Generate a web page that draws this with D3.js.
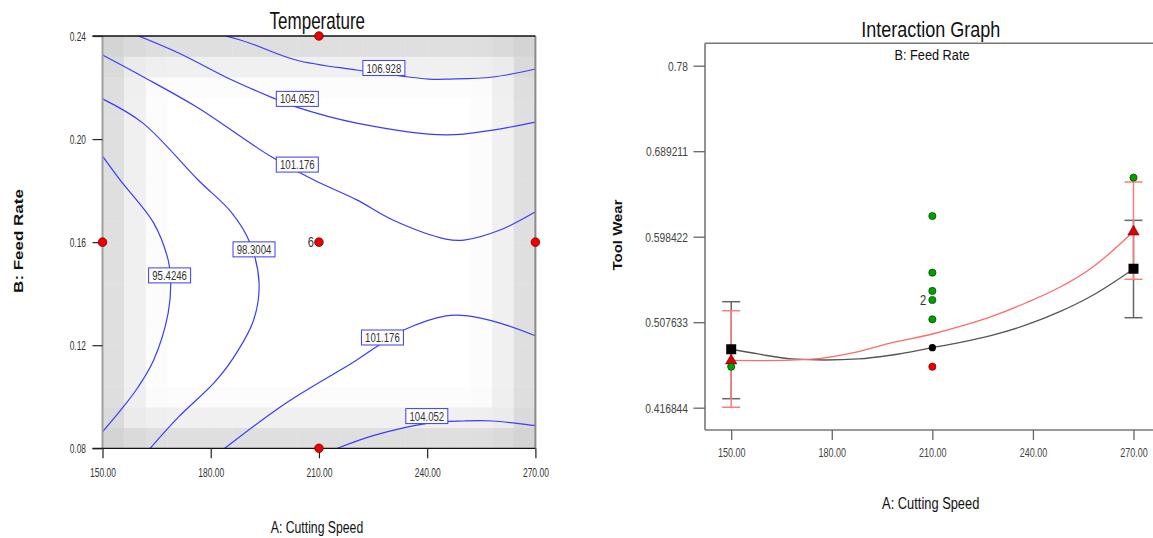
<!DOCTYPE html>
<html><head><meta charset="utf-8">
<script src="https://cdn.jsdelivr.net/npm/d3@7"></script>
<style>
body{margin:0;background:#fff;}
svg{display:block;font-family:"Liberation Sans",Arial,sans-serif;}
</style></head><body>
<svg id="c" width="1153" height="538"></svg>
<script>
// ---------- Left chart data: Temperature contour ----------
const speedTicks = [150, 180, 210, 240, 270];
const speedTickLabels = ["150.00", "180.00", "210.00", "240.00", "270.00"];
const feedTicks = [0.08, 0.12, 0.16, 0.20, 0.24];
const feedTickLabels = ["0.08", "0.12", "0.16", "0.20", "0.24"];

// contour lines: [Cutting Speed, Feed Rate]
const contour106928 = [[184.2,0.24],[190.9,0.2372],[203.6,0.2307],[220.5,0.2268],[240.5,0.2233],[246.3,0.2233],[258.2,0.2241],[270,0.2272]];
const contour104052Upper = [[160.0,0.24],[171.1,0.2334],[185.9,0.2229],[196.7,0.2163],[203.6,0.2125],[220.5,0.2062],[245.2,0.2016],[258.2,0.2035],[270,0.2066]];
const contour101176Upper = [[150,0.2326],[161.2,0.2242],[175.9,0.2126],[196.7,0.1932],[208.6,0.1841],[220.5,0.1764],[230.5,0.1686],[245.2,0.1612],[250.2,0.1608],[260.2,0.1647],[270,0.1718]];
const contour983004 = [[150,0.2156],[161.2,0.2062],[176.5,0.1841],[185.9,0.1713],[190.9,0.1597],[193.4,0.1442],[191.9,0.1298],[185.9,0.1143],[180.9,0.1054],[171.1,0.0922],[163.2,0.08]];
const contour954246 = [[150,0.1934],[154.9,0.1841],[164.2,0.1674],[168.2,0.1531],[168.9,0.1453],[168.2,0.1325],[164.2,0.1143],[159.7,0.1034],[155.1,0.0949],[150,0.0864]];
const contour101176Lower = [[183.9,0.08],[200.8,0.0975],[220.5,0.1143],[227.5,0.1209],[233.5,0.1259],[245.2,0.1314],[251.3,0.1314],[260.2,0.1286],[270,0.1237]];
const contour104052Lower = [[215.1,0.08],[225.5,0.0851],[240.4,0.0898],[250.2,0.0906],[258.2,0.0906],[270,0.0888]];
const contours = [contour106928, contour104052Upper, contour101176Upper, contour983004, contour954246, contour101176Lower, contour104052Lower];

const contourLabels = ["106.928", "104.052", "101.176", "98.3004", "95.4246", "101.176", "104.052"];
const contourLabelSpeed = [228.0, 204.0, 204.0, 192.0, 168.6, 227.6, 239.9];
const contourLabelFeed = [0.2276, 0.2156, 0.1901, 0.1572, 0.1471, 0.1230, 0.0925];

const designSpeed = [150, 270, 210, 210, 210];
const designFeed = [0.16, 0.16, 0.24, 0.08, 0.16];
const centerReplicates = "6";

// ---------- Right chart data: Interaction graph ----------
const wearTicks = [0.416844, 0.507633, 0.598422, 0.689211, 0.78];
const wearTickLabels = ["0.416844", "0.507633", "0.598422", "0.689211", "0.78"];

const lowFeedSpeed = [150, 158, 168, 178, 188, 198, 210, 218, 228, 238, 248, 258, 270];
const lowFeedWear  = [0.4789, 0.4739, 0.4686, 0.4675, 0.4686, 0.4728, 0.4806, 0.4859, 0.4940, 0.5047, 0.5188, 0.5365, 0.5641];
const highFeedSpeed = [150, 158, 173, 188, 198, 210, 218, 228, 238, 248, 258, 270];
const highFeedWear  = [0.4670, 0.4668, 0.4682, 0.4765, 0.4859, 0.4951, 0.5029, 0.5142, 0.5283, 0.5447, 0.5666, 0.6040];

const barSpeed = [150, 270];
const lowBarTop = [0.5294, 0.6158];
const lowBarBottom = [0.4264, 0.5124];
const highBarTop = [0.5198, 0.6565];
const highBarBottom = [0.4173, 0.5532];
const lowMean = [0.4789, 0.5644];
const highMean = [0.4668, 0.6037];

const greenSpeed = [150, 210, 210, 210, 210, 210, 270];
const greenWear  = [0.4604, 0.6204, 0.5602, 0.5408, 0.5312, 0.5107, 0.6611];
const redPointSpeed = [210];
const redPointWear = [0.4604];
const blackPointSpeed = [210];
const blackPointWear = [0.4806];
const replicateLabel = "2";
const replicateWear = 0.5312;

// ---------- helpers ----------
const svg = d3.select("#c");
function txt(g, x, y, s, o = {}) {
  const sx = o.sx ?? 0.8;
  return g.append("text")
    .attr("transform", `translate(${x},${y}) scale(${sx},1)` + (o.rot ? " rotate(-90)" : ""))
    .attr("text-anchor", o.anchor || "middle")
    .attr("font-size", o.size || 12)
    .attr("font-weight", o.weight || "normal")
    .attr("fill", o.fill || "#222")
    .text(s);
}

// ================= LEFT =================
const xL = d3.scaleLinear().domain([150, 270]).range([102.5, 535.4]);
const yL = d3.scaleLinear().domain([0.08, 0.24]).range([448.3, 36]);
const L = svg.append("g");

// design-space shading (decorative grid of cells)
const nCells = 20;
const edgeShade = [32, 15, 3, 0];
const cellIdx = d3.range(nCells);
const shadeG = L.append("g");
cellIdx.forEach(i => cellIdx.forEach(j => {
  const dx = Math.min(i, nCells - 1 - i), dy = Math.min(j, nCells - 1 - j);
  const cx = edgeShade[dx] || 0, cy = edgeShade[dy] || 0;
  const g = Math.round(255 - Math.max(cx, cy) - 0.35 * Math.min(cx, cy));
  const a0 = 150 + i * 120 / nCells, a1 = 150 + (i + 1) * 120 / nCells;
  const b0 = 0.08 + j * 0.16 / nCells, b1 = 0.08 + (j + 1) * 0.16 / nCells;
  shadeG.append("rect")
    .attr("x", xL(a0)).attr("y", yL(b1))
    .attr("width", xL(a1) - xL(a0) + 0.3).attr("height", yL(b0) - yL(b1) + 0.3)
    .attr("fill", `rgb(${g},${g},${g})`);
}));

L.append("clipPath").attr("id", "clipL").append("rect")
  .attr("x", xL(150)).attr("y", yL(0.24)).attr("width", xL(270) - xL(150)).attr("height", yL(0.08) - yL(0.24));

const lineL = d3.line().x(d => xL(d[0])).y(d => yL(d[1])).curve(d3.curveCatmullRom.alpha(0.5));
const cg = L.append("g").attr("clip-path", "url(#clipL)");
contours.forEach(c => cg.append("path").attr("d", lineL(c))
  .attr("fill", "none").attr("stroke", "#3b3bff").attr("stroke-width", 1.2));

// borders
L.append("line").attr("x1", xL(150)).attr("x2", xL(150)).attr("y1", yL(0.24)).attr("y2", yL(0.08))
  .attr("stroke", "#a0a0a0").attr("stroke-width", 2);
L.append("line").attr("x1", xL(270)).attr("x2", xL(270)).attr("y1", yL(0.24)).attr("y2", yL(0.08))
  .attr("stroke", "#8a8a8a").attr("stroke-width", 2);
L.append("line").attr("x1", xL(150) - 10).attr("x2", xL(270)).attr("y1", yL(0.24)).attr("y2", yL(0.24))
  .attr("stroke", "#111").attr("stroke-width", 1.3);
L.append("line").attr("x1", xL(150) - 10).attr("x2", xL(270)).attr("y1", yL(0.08)).attr("y2", yL(0.08))
  .attr("stroke", "#111").attr("stroke-width", 1.3);

// axes
const axLx = L.append("g").attr("transform", `translate(0,${yL(0.08)})`)
  .call(d3.axisBottom(xL).tickValues(speedTicks).tickFormat((d, i) => speedTickLabels[i]).tickSize(10));
const axLy = L.append("g").attr("transform", `translate(${xL(150)},0)`)
  .call(d3.axisLeft(yL).tickValues(feedTicks).tickFormat((d, i) => feedTickLabels[i]).tickSize(10));
[axLx, axLy].forEach(a => { a.select(".domain").remove(); a.selectAll("line").attr("stroke", "#222").attr("stroke-width", 1.2); });
axLx.selectAll("text").attr("dy", null).attr("y", 29).attr("font-size", 12.5)
  .attr("font-family", "Liberation Sans, Arial, sans-serif").attr("fill", "#333")
  .attr("transform", "scale(0.68,1)");
axLy.selectAll("text").attr("dy", "0.35em").attr("x", -16.5 / 0.7).attr("font-size", 12)
  .attr("font-family", "Liberation Sans, Arial, sans-serif").attr("fill", "#333")
  .attr("transform", "scale(0.7,1)");

// contour labels
contourLabels.forEach((s, i) => {
  const x = xL(contourLabelSpeed[i]), y = yL(contourLabelFeed[i]);
  L.append("rect").attr("x", x - 21).attr("y", y - 7.5).attr("width", 42).attr("height", 15)
    .attr("fill", "#fff").attr("stroke", "#3b3bff").attr("stroke-width", 1);
  txt(L, x, y + 4.6, s, { size: 13, sx: 0.74, fill: "#333" });
});

// design points
designSpeed.forEach((a, i) => L.append("circle").attr("cx", xL(a)).attr("cy", yL(designFeed[i])).attr("r", 4.3)
  .attr("fill", "#ee0000").attr("stroke", "#700").attr("stroke-width", 0.8));
txt(L, xL(210) - 5, yL(0.16) + 5, centerReplicates, { size: 14, sx: 0.8, anchor: "end", fill: "#333" });

// titles
txt(L, 317.3, 28.5, "Temperature", { size: 23, sx: 0.74, fill: "#111" });
txt(L, 317, 532.5, "A: Cutting Speed", { size: 17, sx: 0.72, fill: "#111" });
txt(L, 23.2, 241, "B: Feed Rate", { size: 17, sx: 0.79, weight: "bold", rot: true, fill: "#111" });

// ================= RIGHT =================
const xR = d3.scaleLinear().domain([150, 270]).range([731.2, 1133.5]);
const yR = d3.scaleLinear().domain([0.416844, 0.78]).range([407.7, 65.7]);
const R = svg.append("g");
const leftR = 705, topR = 43.3, botR = 430;

R.append("line").attr("x1", leftR).attr("x2", 1153).attr("y1", topR).attr("y2", topR).attr("stroke", "#777").attr("stroke-width", 1.6);
R.append("line").attr("x1", leftR).attr("x2", 1153).attr("y1", botR).attr("y2", botR).attr("stroke", "#777").attr("stroke-width", 1.6);
R.append("line").attr("x1", leftR).attr("x2", leftR).attr("y1", topR).attr("y2", botR).attr("stroke", "#777").attr("stroke-width", 1.6);

const axRx = R.append("g").attr("transform", `translate(0,${botR})`)
  .call(d3.axisBottom(xR).tickValues(speedTicks).tickFormat((d, i) => speedTickLabels[i]).tickSize(10));
const axRy = R.append("g").attr("transform", `translate(${leftR},0)`)
  .call(d3.axisLeft(yR).tickValues(wearTicks).tickFormat((d, i) => wearTickLabels[i]).tickSize(11.5));
[axRx, axRy].forEach(a => { a.select(".domain").remove(); a.selectAll("line").attr("stroke", "#666").attr("stroke-width", 1.3); });
axRx.selectAll("text").attr("dy", null).attr("y", 27).attr("font-size", 12.5)
  .attr("font-family", "Liberation Sans, Arial, sans-serif").attr("fill", "#444").attr("transform", "scale(0.72,1)");
axRy.selectAll("text").attr("dy", "0.35em").attr("x", -17 / 0.82).attr("font-size", 12.5)
  .attr("font-family", "Liberation Sans, Arial, sans-serif").attr("fill", "#444").attr("transform", "scale(0.82,1)");

// error bars: low feed (black) then high feed (red)
function bars(tops, bots, color) {
  barSpeed.forEach((a, i) => {
    const x = xR(a);
    R.append("line").attr("x1", x).attr("x2", x).attr("y1", yR(tops[i])).attr("y2", yR(bots[i]))
      .attr("stroke", color).attr("stroke-width", 1.5);
    [tops[i], bots[i]].forEach(v => R.append("line").attr("x1", x - 9).attr("x2", x + 9)
      .attr("y1", yR(v)).attr("y2", yR(v)).attr("stroke", color).attr("stroke-width", 1.5));
  });
}
bars(lowBarTop, lowBarBottom, "#666");
bars(highBarTop, highBarBottom, "#ff7a7a");

const lineR = d3.line().curve(d3.curveMonotoneX);
R.append("path").attr("d", lineR(lowFeedSpeed.map((a, i) => [xR(a), yR(lowFeedWear[i])])))
  .attr("fill", "none").attr("stroke", "#555").attr("stroke-width", 1.3);
R.append("path").attr("d", lineR(highFeedSpeed.map((a, i) => [xR(a), yR(highFeedWear[i])])))
  .attr("fill", "none").attr("stroke", "#ff6a6a").attr("stroke-width", 1.3);

// mean markers
barSpeed.forEach((a, i) => {
  R.append("path").attr("d", d3.symbol(d3.symbolTriangle, 55)())
    .attr("transform", `translate(${xR(a)},${yR(highMean[i])})`)
    .attr("fill", "#e00000").attr("stroke", "#600").attr("stroke-width", 0.6);
});
greenSpeed.forEach((a, i) => R.append("circle").attr("cx", xR(a)).attr("cy", yR(greenWear[i])).attr("r", 3.6)
  .attr("fill", "#00a000").attr("stroke", "#004000").attr("stroke-width", 0.7));
barSpeed.forEach((a, i) => {
  R.append("rect").attr("x", xR(a) - 5).attr("y", yR(lowMean[i]) - 5).attr("width", 10).attr("height", 10).attr("fill", "#000");
});
redPointSpeed.forEach((a, i) => R.append("circle").attr("cx", xR(a)).attr("cy", yR(redPointWear[i])).attr("r", 3.6)
  .attr("fill", "#ee0000").attr("stroke", "#700").attr("stroke-width", 0.7));
blackPointSpeed.forEach((a, i) => R.append("circle").attr("cx", xR(a)).attr("cy", yR(blackPointWear[i])).attr("r", 3.6)
  .attr("fill", "#000"));
txt(R, xR(210) - 6, yR(replicateWear) + 5, replicateLabel, { size: 14, sx: 0.8, anchor: "end", fill: "#333" });

// titles
txt(R, 930.7, 37, "Interaction Graph", { size: 22.5, sx: 0.8, fill: "#111" });
txt(R, 932, 59.5, "B: Feed Rate", { size: 15, sx: 0.85, fill: "#111" });
txt(R, 930.7, 508.5, "A: Cutting Speed", { size: 16.5, sx: 0.78, fill: "#111" });
txt(R, 622, 235, "Tool Wear", { size: 15, sx: 0.88, weight: "bold", rot: true, fill: "#111" });
</script>
</body></html>
